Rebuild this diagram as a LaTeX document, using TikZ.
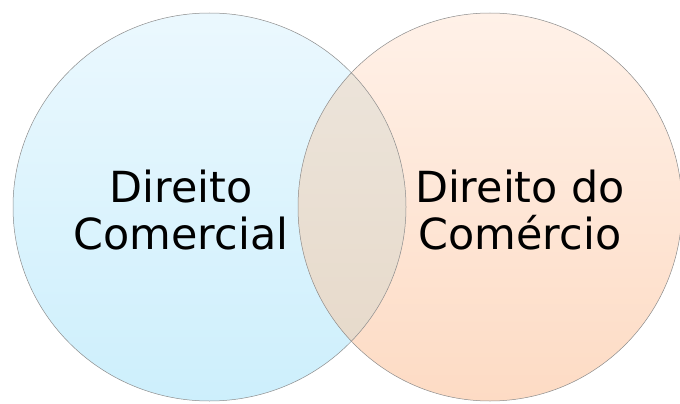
\documentclass[tikz,border=0pt]{standalone}
\usepackage{fontspec}
\setmainfont{DejaVu Sans}
\definecolor{leftTop}{HTML}{EBF8FE}
\definecolor{leftBottom}{HTML}{CDEFFC}
\definecolor{rightTop}{HTML}{FFF1E8}
\definecolor{rightBottom}{HTML}{FDDBC4}
\definecolor{bothTop}{HTML}{EDE6DD}
\definecolor{bothBottom}{HTML}{E6D8C8}
\begin{document}
\begin{tikzpicture}[x=1bp, y=1bp,
                set/.style={draw=black!45, line width=0.5bp},
                label/.style={align=center, font=\fontsize{43}{48}\selectfont, inner sep=0pt}]

                \useasboundingbox (0,0) rectangle (680,403);
                \clip (0,0) rectangle (680,403);

                % left set
                \path[top color=leftTop, bottom color=leftBottom] (209.5,196) ellipse [x radius=196.5, y radius=194];
                % right set
                \path[top color=rightTop, bottom color=rightBottom] (490,196) ellipse [x radius=192, y radius=194];
                % overlap
                \begin{scope}
                    \clip (209.5,196) ellipse [x radius=196.5, y radius=194];
                    \path[top color=bothTop, bottom color=bothBottom] (490,196) ellipse [x radius=192, y radius=194];
                \end{scope}
                \draw[set] (209.5,196) ellipse [x radius=196.5, y radius=194];
                \draw[set] (490,196) ellipse [x radius=192, y radius=194];

                \node[label] (comercial) at (181,193) {Direito\\Comercial};
                \node[label] (comercio) at (520,193) {Direito do\\Comércio};
            \end{tikzpicture}
\end{document}
